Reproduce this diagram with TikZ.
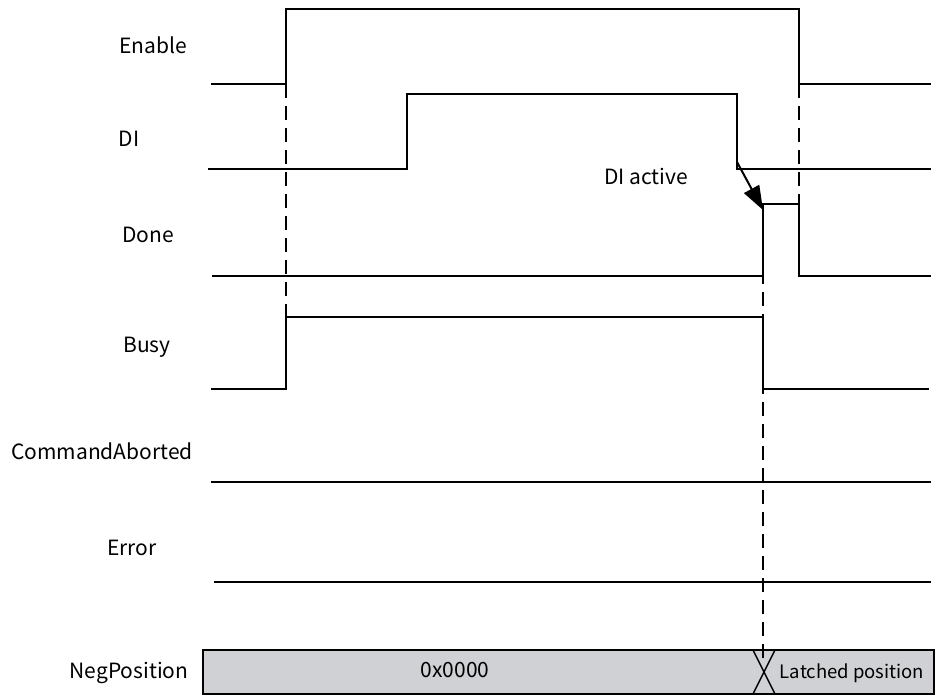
\documentclass[tikz,border=0pt]{standalone}
\usepackage{fontspec}
\setmainfont{Noto Sans CJK SC}
\usetikzlibrary{arrows.meta}
\tikzset{
  signal/.style={
    line width=2pt,
    line join=miter
  },
  marker/.style={
    line width=1.6pt,
    dash pattern=on 14pt off 8pt
  },
  siglabel/.style={
    anchor=base,
    inner sep=0pt,
    font=\fontsize{21}{25}\selectfont
  },
  busbox/.style={
    draw,
    line width=1.5pt,
    fill={rgb,255:red,208;green,209;blue,212}
  },
  every picture/.style={
    x=1pt,
    y=-1pt
  }
}

\begin{document}
\begin{tikzpicture}
        \useasboundingbox (0,0) rectangle (936,697);
        % signal names
        \node[siglabel] (enable) at (153,53) {Enable};
        \node[siglabel] (di) at (129,146) {DI};
        \node[siglabel] (done) at (148,242) {Done};
        \node[siglabel] (busy) at (147,352) {Busy};
        \node[siglabel] (aborted) at (102,459) {CommandAborted};
        \node[siglabel] (error) at (132,555) {Error};
        \node[siglabel] (negpos) at (129,678) {NegPosition};
        % waveforms
        \draw[signal] (211,84)--(286,84)--(286,9)--(799,9)--(799,84)--(931,84);
        \draw[signal] (208,169)--(407,169)--(407,94)--(737,94)--(737,169)--(931,169);
        \draw[signal] (212,276)--(763,276)--(763,204)--(799,204)--(799,276)--(931,276);
        \draw[signal] (211,389)--(286,389)--(286,317)--(763,317)--(763,389)--(929,389);
        \draw[signal] (211,482)--(931,482);
        \draw[signal] (214,582)--(931,582);
        % position bus
        \draw[busbox] (203,650) rectangle (934,694);
        \draw[line width=1.5pt] (753,650)--(775,694) (775,650)--(753,694);
        \node[siglabel] (zero) at (455,677) {0x0000};
        \node[siglabel,font=\fontsize{18.5}{22}\selectfont] (latched) at (852,678) {Latched position};
        % time markers
        \draw[marker] (286,84)--(286,317);
        \draw[marker] (799,84)--(799,276);
        \draw[marker] (763,204)--(763,663);
        % trigger
        \coordinate (diedge) at (737,162);
        \coordinate (donerise) at (763,210);
        \draw[line width=2pt,-{Triangle[length=24pt,width=17pt]}] (diedge)--(donerise);
        \node[siglabel] (diactive) at (646,184) {DI active};
    \end{tikzpicture}
\end{document}
